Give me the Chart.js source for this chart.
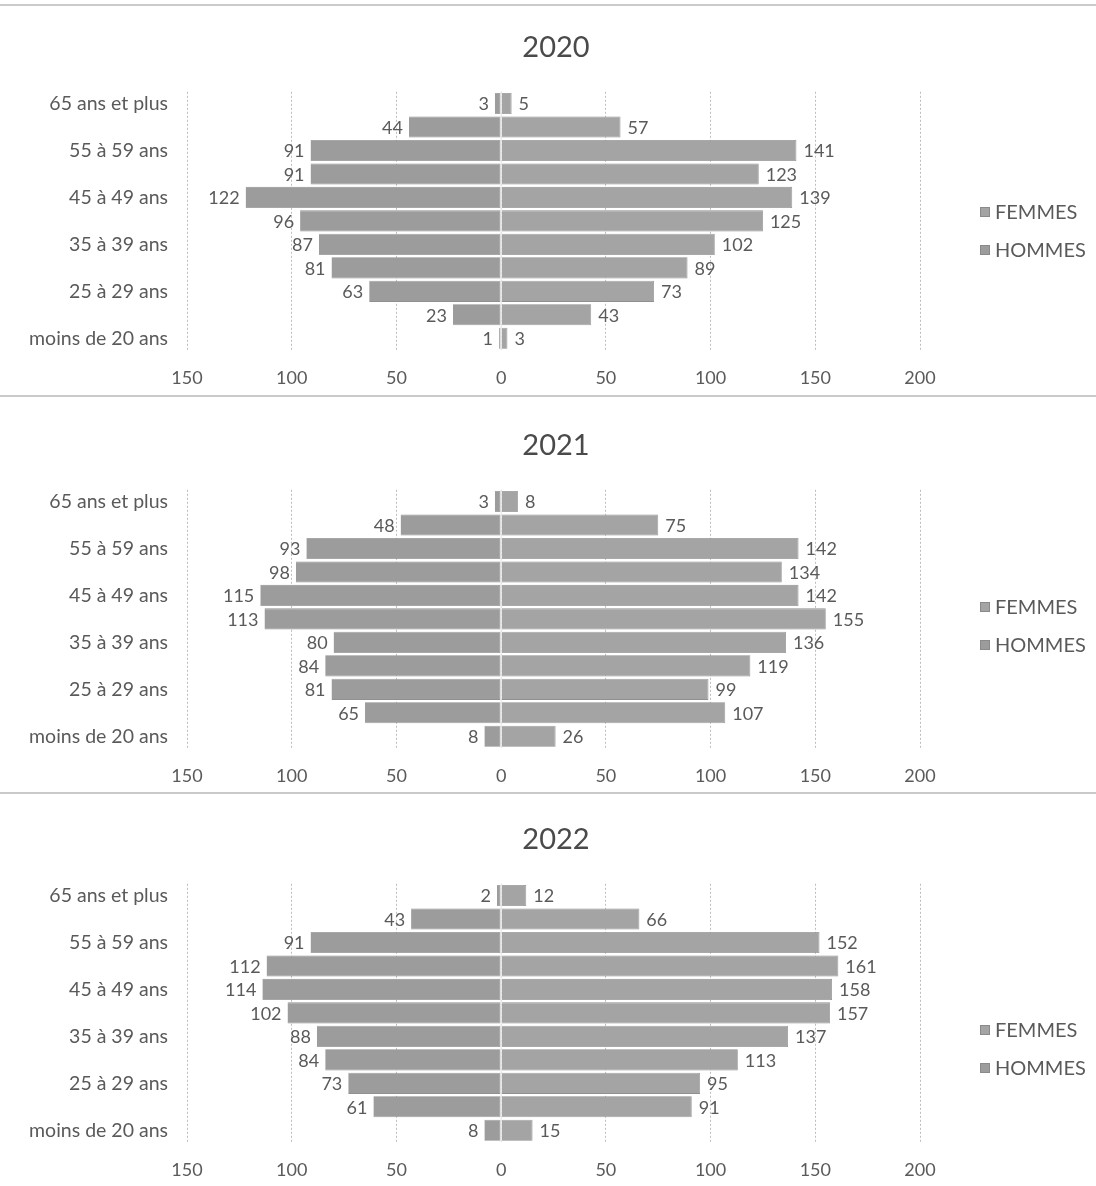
<!DOCTYPE html>
<html>
<head>
<meta charset="utf-8">
<script src="https://cdn.jsdelivr.net/npm/chart.js@4/dist/chart.umd.min.js"></script>
<style>
  html, body { margin: 0; padding: 0; background: #fff; }
  #page { position: relative; width: 1096px; height: 1186px; overflow: hidden; }
  .box { position: absolute; left: 0; width: 1096px; height: 394px; }
  .sep { position: absolute; left: 0; width: 1096px; height: 2px; background: #b4b4b4; opacity: 0.7; }
</style>
</head>
<body>
<div id="page">
  <div class="sep" style="top:4px"></div>
  <div class="box" style="top:0px"><canvas id="c2020"></canvas></div>
  <div class="sep" style="top:395px"></div>
  <div class="box" style="top:398px"><canvas id="c2021"></canvas></div>
  <div class="sep" style="top:792px"></div>
  <div class="box" style="top:792px"><canvas id="c2022"></canvas></div>
</div>
<script>
// ── Data (top row first, as in the picture) ─────────────────────────────
const AGE_GROUPS = [
  '65 ans et plus', '60 à 64 ans', '55 à 59 ans', '50 à 54 ans', '45 à 49 ans',
  '40 à 44 ans', '35 à 39 ans', '30 à 34 ans', '25 à 29 ans', '20 à 24 ans',
  'moins de 20 ans'
];
const YEARS = ['2020', '2021', '2022'];
const SERIES_NAMES = ['FEMMES', 'HOMMES'];

// left side of each pyramid
const HOMMES_2020 = [3, 44, 91, 91, 122, 96, 87, 81, 63, 23, 1];
const HOMMES_2021 = [3, 48, 93, 98, 115, 113, 80, 84, 81, 65, 8];
const HOMMES_2022 = [2, 43, 91, 112, 114, 102, 88, 84, 73, 61, 8];
// right side of each pyramid
const FEMMES_2020 = [5, 57, 141, 123, 139, 125, 102, 89, 73, 43, 3];
const FEMMES_2021 = [8, 75, 142, 134, 142, 155, 136, 119, 99, 107, 26];
const FEMMES_2022 = [12, 66, 152, 161, 158, 157, 137, 113, 95, 91, 15];

const X_MIN = -150, X_MAX = 200, X_STEP = 50;

// ── Style ───────────────────────────────────────────────────────────────
const FONT = 'Lato, "Open Sans", sans-serif';
const TXT = '#5a5a5a';
const COL_F = '#a4a4a4';
const COL_H = '#9c9c9c';
const LEGEND_Y = [212, 209, 238];   // legend first-row centre, per chart

// bar value labels at the bar ends
const barLabels = {
  id: 'barLabels',
  afterDatasetsDraw(chart) {
    const ctx = chart.ctx;
    ctx.save();
    ctx.font = '18px ' + FONT;
    ctx.fillStyle = TXT;
    ctx.textBaseline = 'middle';
    chart.data.datasets.forEach((ds, di) => {
      const meta = chart.getDatasetMeta(di);
      meta.data.forEach((bar, i) => {
        const v = ds.data[i];
        if (v < 0) { ctx.textAlign = 'right'; ctx.fillText(String(-v), bar.x - 6, bar.y + 1); }
        else       { ctx.textAlign = 'left';  ctx.fillText(String(v),  bar.x + 7, bar.y + 1); }
      });
    });
    // faint split line at zero
    const x0 = chart.scales.x.getPixelForValue(0);
    ctx.strokeStyle = 'rgba(235,235,235,0.9)';
    ctx.lineWidth = 1.5;
    ctx.beginPath();
    ctx.moveTo(x0, chart.chartArea.top);
    ctx.lineTo(x0, chart.chartArea.bottom);
    ctx.stroke();
    ctx.restore();
  }
};

// legend at the right, drawn from the dataset labels/colours
const sideLegend = {
  id: 'sideLegend',
  afterDraw(chart, args, opts) {
    const ctx = chart.ctx;
    ctx.save();
    ctx.font = '20px ' + FONT;
    ctx.textBaseline = 'middle';
    ctx.textAlign = 'left';
    const order = [1, 0]; // FEMMES first, as in the picture
    order.forEach((di, k) => {
      const ds = chart.data.datasets[di];
      const y = opts.y + k * 38;
      ctx.fillStyle = ds.backgroundColor;
      ctx.fillRect(980, y - 5, 10, 10);
      ctx.strokeStyle = '#8a8a8a';
      ctx.lineWidth = 1;
      ctx.strokeRect(980.5, y - 4.5, 9, 9);
      ctx.fillStyle = TXT;
      ctx.fillText(ds.label, 995, y + 1);
    });
    ctx.restore();
  }
};

function makePyramid(canvasId, year, hommes, femmes, legendY) {
  return new Chart(document.getElementById(canvasId), {
    type: 'bar',
    data: {
      labels: AGE_GROUPS,
      datasets: [
        { label: SERIES_NAMES[1], data: hommes.map(v => -v), backgroundColor: COL_H,
          borderColor: '#909090', borderWidth: 0.8, borderSkipped: 'right' },
        { label: SERIES_NAMES[0], data: femmes, backgroundColor: COL_F,
          borderColor: '#909090', borderWidth: 0.8, borderSkipped: 'left' },
      ]
    },
    options: {
      indexAxis: 'y',
      responsive: true,
      maintainAspectRatio: false,
      animation: false,
      layout: { padding: { left: 16, right: 0, top: 0, bottom: 0 } },
      datasets: { bar: { barPercentage: 0.9, categoryPercentage: 1 } },
      scales: {
        x: {
          stacked: true, min: X_MIN, max: X_MAX,
          grid: { color: '#bdbdbd', lineWidth: 1, drawTicks: false },
          border: { display: false, dash: [2, 2] },
          ticks: { stepSize: X_STEP, padding: 17, color: TXT, font: { family: FONT, size: 18 },
                   callback: v => String(Math.abs(v)) },
          afterFit: s => { s.height = 44; }
        },
        y: {
          stacked: true,
          grid: { display: false, drawTicks: false },
          border: { display: false },
          ticks: { autoSkip: false, padding: 19, color: TXT, font: { family: FONT, size: 19.5 },
                   callback: (v, i) => (i % 2 === 0 ? AGE_GROUPS[i] : '') },
          afterFit: s => { s.width = 171; }
        },
        // empty band on the right that holds the legend
        yLegend: {
          type: 'category', position: 'right',
          grid: { display: false, drawTicks: false },
          border: { display: false },
          ticks: { display: false },
          afterFit: s => { s.width = 176; }
        }
      },
      plugins: {
        legend: { display: false },
        tooltip: { enabled: false },
        title: { display: true, text: year, color: '#4a4a4a',
                 font: { family: FONT, size: 29, weight: 'normal' },
                 padding: { top: 30, bottom: 27 } },
        sideLegend: { y: legendY }
      }
    },
    plugins: [barLabels, sideLegend]
  });
}

makePyramid('c2020', YEARS[0], HOMMES_2020, FEMMES_2020, LEGEND_Y[0]);
makePyramid('c2021', YEARS[1], HOMMES_2021, FEMMES_2021, LEGEND_Y[1]);
makePyramid('c2022', YEARS[2], HOMMES_2022, FEMMES_2022, LEGEND_Y[2]);
</script>
</body>
</html>
